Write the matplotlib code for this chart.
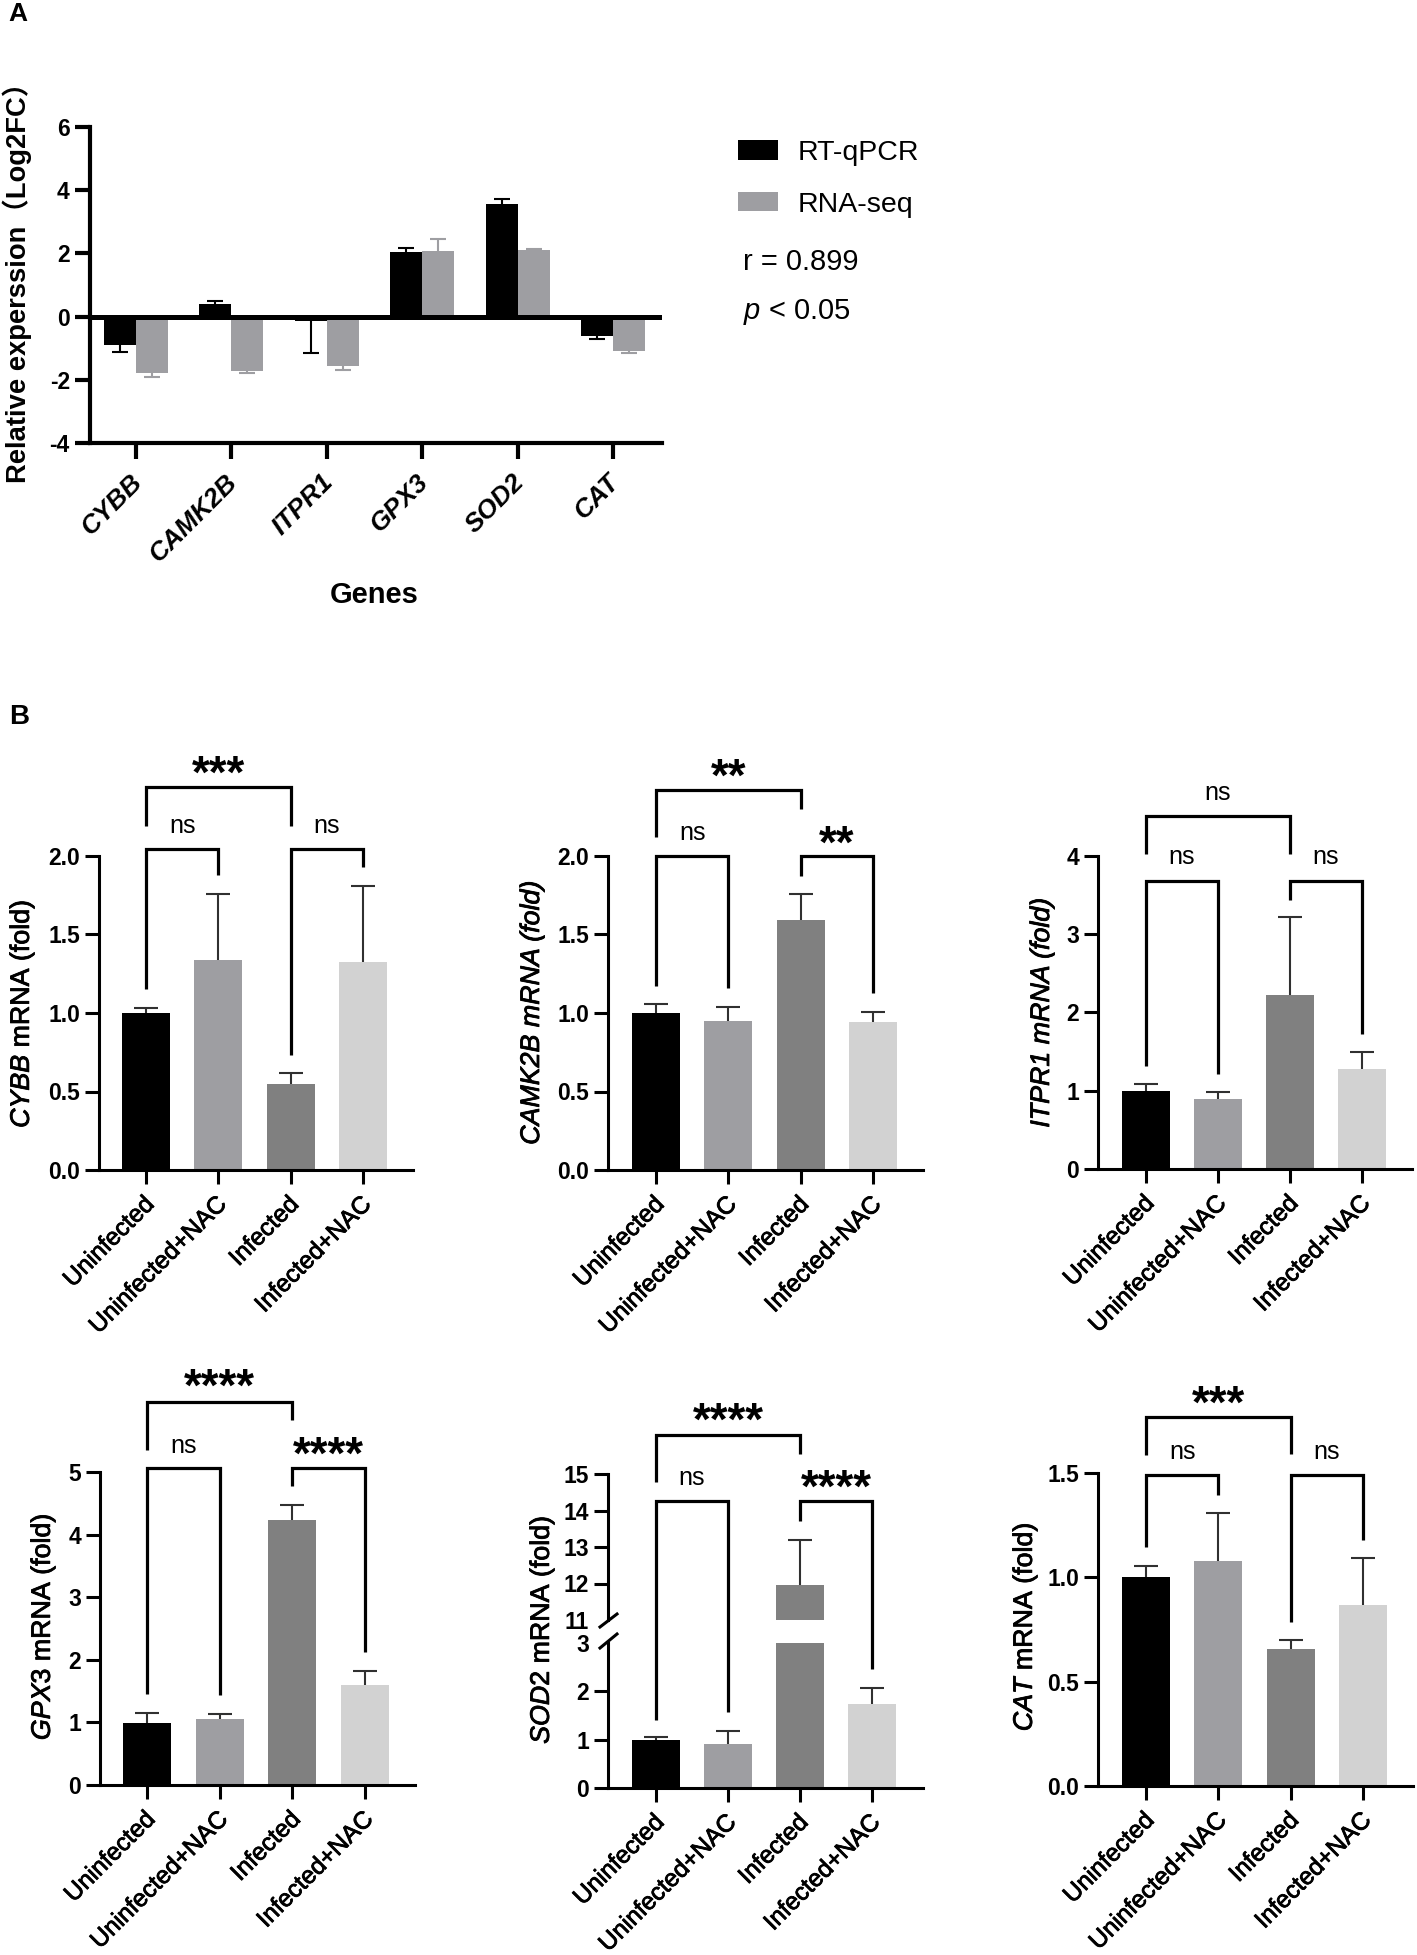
import matplotlib
matplotlib.use('Agg')
import matplotlib.pyplot as plt
import matplotlib.patheffects as pe
from matplotlib.lines import Line2D
from matplotlib.transforms import ScaledTranslation
import numpy as np

plt.rcParams['font.family'] = ['Liberation Sans', 'Noto Sans CJK SC', 'DejaVu Sans']
plt.rcParams['mathtext.fontset'] = 'custom'
plt.rcParams['mathtext.rm'] = 'Liberation Sans'
plt.rcParams['mathtext.it'] = 'Liberation Sans:italic'
plt.rcParams['mathtext.bf'] = 'Liberation Sans:bold'

W, H = 1417, 1955

# panel A
genes = ['CYBB', 'CAMK2B', 'ITPR1', 'GPX3', 'SOD2', 'CAT']
qpcr = [-0.9, 0.4, -0.13, 2.05, 3.55, -0.6]
qpcr_end = [-1.12, 0.48, -1.15, 2.17, 3.72, -0.72]
rnaseq = [-1.77, -1.72, -1.57, 2.07, 2.1, -1.1]
rnaseq_end = [-1.9, -1.77, -1.68, 2.47, 2.15, -1.14]

# panel B
groups = ['Uninfected', 'Uninfected+NAC', 'Infected', 'Infected+NAC']
group_colors = ['#000000', '#9E9EA2', '#808080', '#D2D2D2']

cybb = [1.0, 1.335, 0.545, 1.325]
cybb_top = [1.035, 1.755, 0.615, 1.81]
camk2b = [1.0, 0.95, 1.59, 0.94]
camk2b_top = [1.055, 1.04, 1.76, 1.005]
itpr1 = [1.0, 0.89, 2.23, 1.28]
itpr1_top = [1.09, 0.98, 3.22, 1.5]
gpx3 = [0.99, 1.05, 4.24, 1.59]
gpx3_top = [1.15, 1.14, 4.47, 1.82]
sod2 = [1.0, 0.92, 11.95, 1.73]
sod2_top = [1.05, 1.17, 13.2, 2.07]
cat = [1.0, 1.077, 0.655, 0.866]
cat_top = [1.053, 1.31, 0.70, 1.095]

# brackets: first bar, second bar, height, left leg end, right leg end, text, text height
cybb_marks = [(0, 2, 2.437, 2.19, 2.19, '***', 2.567),
              (0, 1, 2.047, 1.155, 1.877, 'ns', 2.19),
              (2, 3, 2.047, 0.733, 1.93, 'ns', 2.19)]
camk2b_marks = [(0, 2, 2.42, 2.12, 2.30, '**', 2.55),
                (0, 1, 2.0, 1.17, 1.157, 'ns', 2.144),
                (2, 3, 2.0, 1.875, 1.125, '**', 2.12)]
itpr1_marks = [(0, 2, 4.51, 4.03, 4.03, 'ns', 4.80),
               (0, 1, 3.685, 1.31, 1.21, 'ns', 3.98),
               (2, 3, 3.685, 3.44, 1.73, 'ns', 3.98)]
gpx3_marks = [(0, 2, 6.12, 5.35, 5.83, '****', 6.47),
              (0, 1, 5.06, 1.45, 1.43, 'ns', 5.41),
              (2, 3, 5.06, 4.77, 2.12, '****', 5.39)]
sod2_marks = [(0, 2, 7.31, 6.33, 6.91, '****', 7.75),
              (0, 1, 5.93, 1.40, 1.57, 'ns', 6.41),
              (2, 3, 5.93, 5.53, 2.47, '****', 6.36)]
cat_marks = [(0, 2, 1.768, 1.585, 1.589, '***', 1.864),
             (0, 1, 1.489, 1.143, 1.396, 'ns', 1.597),
             (2, 3, 1.489, 0.787, 1.181, 'ns', 1.597)]

fig = plt.figure(figsize=(W / 100, H / 100), dpi=100)
medium = [pe.withStroke(linewidth=0.6, foreground='black')]


def px_axes(left, right, top, bottom):
    return fig.add_axes([left / W, 1 - bottom / H, (right - left) / W, (bottom - top) / H])


def fx(x):
    return x / W


def fy(y):
    return 1 - y / H


def style(ax, left, right, tick0, tick_last, n, lw):
    step = (tick_last - tick0) / (n - 1)
    ax.set_xlim((left - tick0) / step, (right - tick0) / step)
    ax.spines['top'].set_visible(False)
    ax.spines['right'].set_visible(False)
    ax.spines['left'].set_linewidth(lw)
    ax.spines['bottom'].set_linewidth(lw)
    ax.patch.set_alpha(0)


def draw_bars(ax, values, tops):
    x = np.arange(4)
    values = np.array(values)
    eb = ax.errorbar(x, values, yerr=[np.zeros(4), np.array(tops) - values], fmt='none',
                     ecolor='#303030', elinewidth=1.5, capsize=8.6, capthick=1.5, zorder=1)
    eb[1][0].set_visible(False)  # no cap on the empty lower side
    ax.bar(x, values, width=0.66, color=group_colors, zorder=2)


def draw_marks(ax, marks):
    for a, b, y, end_a, end_b, label, label_y in marks:
        ax.plot([a, a, b, b], [end_a, y, y, end_b], color='black', lw=2.3,
                clip_on=False, zorder=4, solid_joinstyle='miter', solid_capstyle='butt')
        xm = (a + b) / 2
        if label == 'ns':
            ax.annotate(label, (xm, label_y), xytext=(0, -4.7), textcoords='offset points',
                        ha='center', va='baseline', fontsize=18, annotation_clip=False)
        else:
            ax.annotate(label, (xm, label_y), xytext=(0, -15), textcoords='offset points',
                        ha='center', va='baseline', fontsize=33, fontweight='bold',
                        annotation_clip=False)


def shift_labels(ax, dx_px):
    for lab in ax.get_xticklabels():
        lab.set_transform(lab.get_transform() + ScaledTranslation(dx_px / 100, 0, fig.dpi_scale_trans))


def finish_x(ax):
    ax.set_xticks(range(4))
    ax.set_xticklabels(groups, rotation=45, ha='right', rotation_mode='anchor', fontsize=17.6,
                       path_effects=medium)
    ax.tick_params(axis='x', length=10, width=2.2, pad=7)
    shift_labels(ax, -3)


def set_ylab(ax, text, x, y):
    ax.set_ylabel(text, fontsize=19.3, va='center', path_effects=medium)
    ax.yaxis.set_label_coords(fx(x), fy(y), transform=fig.transFigure)


def panel(box, ticks, values, tops, marks, ylab, lab_xy, tick_fmt):
    left, right, top, bottom, t0, t3 = box
    ax = px_axes(left, right, top, bottom)
    style(ax, left, right, t0, t3, 4, 2.2)
    ax.set_ylim(ticks[0], ticks[-1])
    ax.set_yticks(ticks)
    ax.set_yticklabels([tick_fmt % t for t in ticks], fontsize=16.5, fontweight='bold')
    ax.tick_params(axis='y', length=10, width=2.2, pad=3.5)
    draw_bars(ax, values, tops)
    draw_marks(ax, marks)
    finish_x(ax)
    set_ylab(ax, ylab, *lab_xy)
    return ax


# ---- A ----
ax_a = px_axes(90, 662, 127, 443)
style(ax_a, 90, 662, 136, 613, 6, 3)
ax_a.set_ylim(-4, 6)
x = np.arange(6)
for off, vals, ends, col, name in [(-0.167, qpcr, qpcr_end, '#000000', 'RT-qPCR'),
                                   (0.167, rnaseq, rnaseq_end, '#9E9EA2', 'RNA-seq')]:
    for i in range(6):
        below = ends[i] < vals[i]
        err = abs(ends[i] - vals[i])
        eb = ax_a.errorbar(x[i] + off, vals[i], yerr=[[err if below else 0], [0 if below else err]],
                           fmt='none', ecolor=col, elinewidth=1.5, capsize=5.5, capthick=1.5, zorder=1)
        eb[1][1 if below else 0].set_visible(False)
    ax_a.bar(x + off, vals, width=0.335, color=col, label=name, zorder=2)
ax_a.axhline(0, color='black', lw=3.6, zorder=5)
ax_a.set_yticks([-4, -2, 0, 2, 4, 6])
ax_a.set_yticklabels(['-4', '-2', '0', '2', '4', '6'], fontsize=16.5, fontweight='bold')
ax_a.set_xticks(x)
ax_a.set_xticklabels(genes, rotation=45, ha='right', rotation_mode='anchor', fontsize=19,
                     fontweight='bold', fontstyle='italic')
ax_a.tick_params(axis='y', length=11, width=3, pad=3.5)
ax_a.tick_params(axis='x', length=11.5, width=3, pad=8)
shift_labels(ax_a, -6)
ax_a.set_ylabel('Relative experssion（Log2FC）', fontsize=19.7, fontweight='bold', va='center')
ax_a.yaxis.set_label_coords(fx(17), fy(276), transform=fig.transFigure)
fig.text(fx(374), fy(595), 'Genes', fontsize=21, fontweight='bold', ha='center', va='center')
ax_a.legend(loc='upper left', bbox_to_anchor=(fx(738), fy(140)), bbox_transform=fig.transFigure,
            frameon=False, fontsize=20.5, handlelength=1.4, handleheight=0.66,
            handletextpad=0.7, labelspacing=0.9, borderpad=0, borderaxespad=0)
fig.text(fx(743), fy(262), 'r = 0.899', fontsize=21, ha='left', va='center')
fig.text(fx(743), fy(312), r'$\mathit{p}$ < 0.05', fontsize=21, ha='left', va='center')

fig.text(fx(8), fy(14), 'A', fontsize=19, fontweight='bold', ha='left', va='center')
fig.text(fx(9), fy(717), 'B', fontsize=20, fontweight='bold', ha='left', va='center')

# ---- B ----
panel((99, 413, 856, 1170, 146, 363), [0, 0.5, 1.0, 1.5, 2.0], cybb, cybb_top, cybb_marks,
      r'$\mathit{CYBB}$ mRNA (fold)', (22, 1014), '%.1f')
ax = panel((608, 923, 856, 1170, 656, 873), [0, 0.5, 1.0, 1.5, 2.0], camk2b, camk2b_top, camk2b_marks,
           'CAMK2B mRNA (fold)', (532, 1013), '%.1f')
ax.yaxis.label.set_fontstyle('italic')
ax = panel((1098, 1412, 856, 1169, 1146, 1362), [0, 1, 2, 3, 4], itpr1, itpr1_top, itpr1_marks,
           'ITPR1 mRNA (fold)', (1042, 1013), '%d')
ax.yaxis.label.set_fontstyle('italic')
panel((100, 415, 1472, 1785, 147, 365), [0, 1, 2, 3, 4, 5], gpx3, gpx3_top, gpx3_marks,
      r'$\mathit{GPX3}$ mRNA (fold)', (43, 1627), '%d')
panel((1098, 1413, 1473, 1786, 1146, 1363), [0, 0.5, 1.0, 1.5], cat, cat_top, cat_marks,
      r'$\mathit{CAT}$ mRNA (fold)', (1025, 1627), '%.1f')

# SOD2 has a broken axis
box = (608, 923, 656, 872)
low = px_axes(box[0], box[1], 1643, 1788)
style(low, box[0], box[1], box[2], box[3], 4, 2.2)
low.set_ylim(0, 3)
low.set_yticks([0, 1, 2, 3])
low.set_yticklabels(['0', '1', '2', '3'], fontsize=16.5, fontweight='bold')
low.tick_params(axis='y', length=10, width=2.2, pad=3.5)
low.yaxis.get_major_ticks()[-1].tick1line.set_visible(False)
draw_bars(low, sod2, sod2_top)
draw_marks(low, sod2_marks)
finish_x(low)
set_ylab(low, r'$\mathit{SOD2}$ mRNA (fold)', 542, 1630)

up = px_axes(box[0], box[1], 1474, 1620)
style(up, box[0], box[1], box[2], box[3], 4, 2.2)
up.spines['bottom'].set_visible(False)
up.set_ylim(11, 15)
up.set_yticks([11, 12, 13, 14, 15])
up.set_yticklabels(['11', '12', '13', '14', '15'], fontsize=16.5, fontweight='bold')
up.tick_params(axis='y', length=10, width=2.2, pad=3.5)
up.yaxis.get_major_ticks()[0].tick1line.set_visible(False)
up.set_xticks([])
draw_bars(up, sod2, sod2_top)

for y0, y1 in [(1627, 1614), (1648, 1634)]:
    fig.add_artist(Line2D([fx(600), fx(617)], [fy(y0), fy(y1)], color='black', lw=2.2))

fig.savefig('out.png', dpi=100)
